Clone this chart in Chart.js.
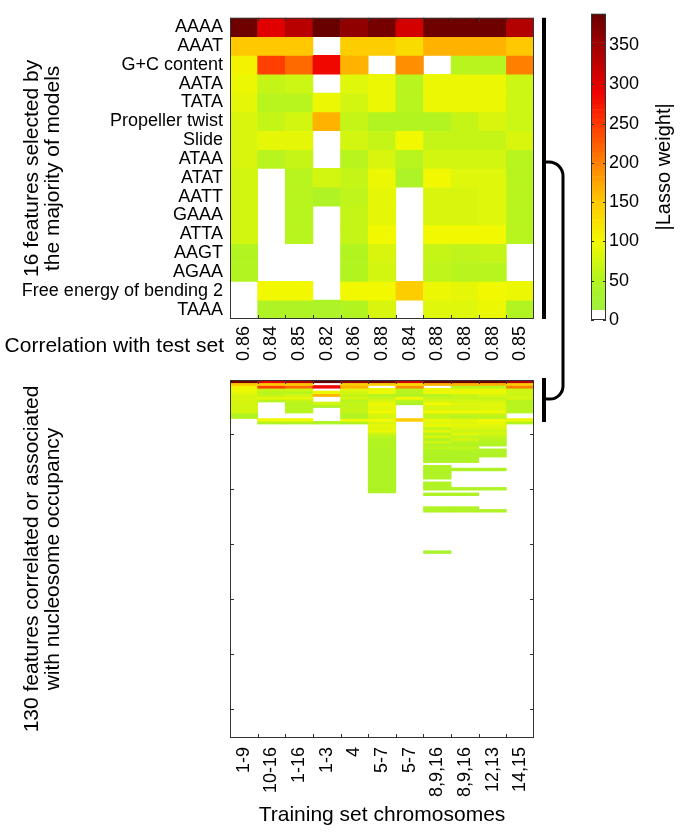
<!DOCTYPE html>
<html>
<head>
<meta charset="utf-8">
<script src="https://cdn.jsdelivr.net/npm/chart.js@4.4.1/dist/chart.umd.min.js"></script>
<style>
  html, body { margin: 0; padding: 0; background: #fff; }
  body { width: 685px; height: 836px; position: relative; overflow: hidden; }
  canvas { position: absolute; left: 0; top: 0; }
</style>
</head>
<body>
<canvas id="top-chart" width="685" height="430"></canvas>
<canvas id="bottom-chart" width="685" height="836"></canvas>
<canvas id="cbar-chart" width="125" height="340" style="left:560px"></canvas>
<script>
const features = ['AAAA', 'AAAT', 'G+C content', 'AATA', 'TATA', 'Propeller twist', 'Slide', 'ATAA',
    'ATAT', 'AATT', 'GAAA', 'ATTA', 'AAGT', 'AGAA', 'Free energy of bending 2', 'TAAA'];
const correlations = ['0.86', '0.84', '0.85', '0.82', '0.86', '0.88', '0.84', '0.88', '0.88', '0.88', '0.85'];
const chromosomes = ['1-9', '10-16', '1-16', '1-3', '4', '5-7', '5-7', '8,9,16', '8,9,16', '12,13', '14,15'];

// |Lasso weight| of the 16 selected features (one line per feature, one value per model)
const topWeights = [
    [385, 300, 330, 390, 360, 380, 310, 385, 385, 385, 335],
    [150, 150, 150,   0, 145, 145, 130, 165, 165, 165, 150],
    [105, 245, 215, 285, 165,   0, 190,   0,  55,  55, 200],
    [ 95,  65,  70,   0,  85,  95,  55,  95,  95,  95,  70],
    [ 90,  55,  55,  95,  75,  95,  55,  95,  95,  95,  70],
    [ 80,  65,  75, 165,  65,  50,  50,  50,  65,  80,  70],
    [ 80,  90,  90,   0,  75,  65, 100,  65,  65,  65,  80],
    [ 80,  55,  65,   0,  55,  80,  55,  75,  75,  75,  55],
    [ 75,   0,  55,  75,  65,  95,  40, 100,  85,  85,  55],
    [ 75,   0,  55,  45,  60,  90,   0,  80,  80,  85,  55],
    [ 75,   0,  55,   0,  65,  90,   0,  80,  80,  85,  55],
    [ 75,   0,  55,   0,  65, 100,   0, 100, 100, 100,  55],
    [ 50,   0,   0,   0,  50,  80,   0,  65,  60,  65,   0],
    [ 50,   0,   0,   0,  50,  75,   0,  60,  55,  55,   0],
    [  0, 100, 100,   0, 100, 100, 145,  95,  90, 100,  95],
    [  0,  45,  45,  40,  50,  80,   0,  85,  85,  95,  50]
];

// rows 17-63 of the 130-feature panel (rows 64-130 are all zero)
const extraWeights = [
    [0, 0, 0, 0, 0, 90, 0, 95, 90, 85, 0],
    [0, 0, 0, 0, 0, 85, 0, 60, 80, 80, 0],
    [0, 0, 0, 0, 0, 95, 0, 90, 70, 70, 0],
    [0, 0, 0, 0, 0, 70, 0, 55, 85, 75, 0],
    [0, 0, 0, 0, 0, 55, 0, 80, 60, 60, 0],
    [0, 0, 0, 0, 0, 50, 0, 50, 75, 55, 0],
    [0, 0, 0, 0, 0, 50, 0, 70, 55, 50, 0],
    [0, 0, 0, 0, 0, 48, 0, 45, 50, 45, 0],
    [0, 0, 0, 0, 0, 48, 0, 60, 60,  0, 0],
    [0, 0, 0, 0, 0, 45, 0, 45, 50, 45, 0],
    [0, 0, 0, 0, 0, 45, 0, 50, 45, 45, 0],
    [0, 0, 0, 0, 0, 45, 0, 45, 45, 45, 0],
    [0, 0, 0, 0, 0, 45, 0, 45, 45,  0, 0],
    [0, 0, 0, 0, 0, 45, 0, 45, 45,  0, 0],
    [0, 0, 0, 0, 0, 45, 0,  0,  0,  0, 0],
    [0, 0, 0, 0, 0, 45, 0, 45,  0,  0, 0],
    [0, 0, 0, 0, 0, 45, 0, 45, 45, 45, 0],
    [0, 0, 0, 0, 0, 45, 0, 45,  0,  0, 0],
    [0, 0, 0, 0, 0, 45, 0, 45,  0,  0, 0],
    [0, 0, 0, 0, 0, 45, 0, 45,  0,  0, 0],
    [0, 0, 0, 0, 0, 45, 0,  0,  0,  0, 0],
    [0, 0, 0, 0, 0, 45, 0, 45,  0,  0, 0],
    [0, 0, 0, 0, 0, 45, 0, 45,  0,  0, 0],
    [0, 0, 0, 0, 0, 45, 0, 45, 45, 45, 0],
    [0, 0, 0, 0, 0, 45, 0,  0,  0,  0, 0],
    [0, 0, 0, 0, 0,  0, 0, 40, 40,  0, 0],
    [0, 0, 0, 0, 0,  0, 0,  0,  0,  0, 0],
    [0, 0, 0, 0, 0,  0, 0,  0,  0,  0, 0],
    [0, 0, 0, 0, 0,  0, 0,  0,  0,  0, 0],
    [0, 0, 0, 0, 0,  0, 0,  0,  0,  0, 0],
    [0, 0, 0, 0, 0,  0, 0, 45, 45,  0, 0],
    [0, 0, 0, 0, 0,  0, 0, 45, 45, 45, 0],
    [0, 0, 0, 0, 0,  0, 0,  0,  0,  0, 0],
    [0, 0, 0, 0, 0,  0, 0,  0,  0,  0, 0],
    [0, 0, 0, 0, 0,  0, 0,  0,  0,  0, 0],
    [0, 0, 0, 0, 0,  0, 0,  0,  0,  0, 0],
    [0, 0, 0, 0, 0,  0, 0,  0,  0,  0, 0],
    [0, 0, 0, 0, 0,  0, 0,  0,  0,  0, 0],
    [0, 0, 0, 0, 0,  0, 0,  0,  0,  0, 0],
    [0, 0, 0, 0, 0,  0, 0,  0,  0,  0, 0],
    [0, 0, 0, 0, 0,  0, 0,  0,  0,  0, 0],
    [0, 0, 0, 0, 0,  0, 0,  0,  0,  0, 0],
    [0, 0, 0, 0, 0,  0, 0,  0,  0,  0, 0],
    [0, 0, 0, 0, 0,  0, 0,  0,  0,  0, 0],
    [0, 0, 0, 0, 0,  0, 0,  0,  0,  0, 0],
    [0, 0, 0, 0, 0,  0, 0,  0,  0,  0, 0],
    [0, 0, 0, 0, 0,  0, 0, 35,  0,  0, 0]
];
const bottomRowCount = 130;
const bottomTickRows = [20, 40, 60, 80, 100, 120];

const colorbarMax = 390;
const colorbarTicks = [0, 50, 100, 150, 200, 250, 300, 350];

// colormap: white below 12, then green -> yellow -> orange -> red -> dark red
const cmapStops = [
    [12, [158, 240, 64]],
    [50, [178, 244, 32]],
    [100, [242, 248, 0]],
    [150, [255, 200, 0]],
    [200, [255, 128, 0]],
    [250, [255, 56, 0]],
    [290, [238, 0, 0]],
    [340, [172, 0, 0]],
    [390, [104, 0, 0]]
];
function weightColor(v) {
    if (!(v >= cmapStops[0][0])) return '#ffffff';
    for (let i = 1; i < cmapStops.length; i++) {
        const [v0, c0] = cmapStops[i - 1];
        const [v1, c1] = cmapStops[i];
        if (v <= v1) {
            const t = (v - v0) / (v1 - v0);
            const c = c0.map((a, k) => Math.round(a + (c1[k] - a) * t));
            return 'rgb(' + c.join(',') + ')';
        }
    }
    const last = cmapStops[cmapStops.length - 1][1];
    return 'rgb(' + last.join(',') + ')';
}

function heatDatasets(rows) {
    return rows.map((row, r) => ({
        label: 'row ' + (r + 1),
        data: row.map(v => v > 0 ? [r - 0.5, r + 0.5] : null),
        backgroundColor: row.map(v => weightColor(v)),
        borderWidth: 0
    }));
}

Chart.defaults.font.family = '"Liberation Sans", Arial, sans-serif';
Chart.defaults.color = '#000';

const inwardTicks = {
    id: 'inwardTicks',
    afterDatasetsDraw(chart, args, opts) {
        const {ctx, chartArea: a, scales: {x, y}} = chart;
        ctx.save();
        ctx.strokeStyle = '#333';
        ctx.lineWidth = 1;
        ctx.beginPath();
        for (let j = 1; j < chromosomes.length; j++) {
            const px = Math.round((x.getPixelForValue(j - 1) + x.getPixelForValue(j)) / 2) + 0.5;
            ctx.moveTo(px, a.bottom); ctx.lineTo(px, a.bottom - 4);
            ctx.moveTo(px, a.top); ctx.lineTo(px, a.top + 4);
        }
        (opts.rowTicks || []).forEach(r => {
            const py = Math.round(y.getPixelForValue(r - 1)) + 0.5;
            ctx.moveTo(a.left, py); ctx.lineTo(a.left + 4, py);
            ctx.moveTo(a.right, py); ctx.lineTo(a.right - 4, py);
        });
        ctx.stroke();
        ctx.strokeRect(a.left + 0.5, a.top + 0.5, a.width - 1, a.height - 1);
        ctx.restore();
    }
};

const topDecor = {
    id: 'topDecor',
    afterDraw(chart) {
        const {ctx, chartArea: a} = chart;
        ctx.save();
        ctx.fillStyle = '#000';
        ctx.font = '21px "Liberation Sans", Arial, sans-serif';
        ctx.textAlign = 'right';
        ctx.textBaseline = 'middle';
        ctx.fillText('Correlation with test set', a.left - 6, a.bottom + 27);

        // brackets linking the two panels
        const bx = a.right + 10;
        ctx.strokeStyle = '#000';
        ctx.lineWidth = 4;
        ctx.beginPath();
        ctx.moveTo(bx, a.top); ctx.lineTo(bx, a.bottom);
        ctx.moveTo(bx, 378); ctx.lineTo(bx, 422);
        ctx.stroke();
        ctx.lineWidth = 3;
        ctx.beginPath();
        ctx.moveTo(bx, 162);
        ctx.arcTo(bx + 19, 162, bx + 19, 190, 14);
        ctx.lineTo(bx + 19, 385);
        ctx.arcTo(bx + 19, 399, bx, 399, 13);
        ctx.lineTo(bx, 399);
        ctx.stroke();
        ctx.restore();
    }
};

const cbarDecor = {
    id: 'cbarDecor',
    afterDraw(chart) {
        const {ctx, chartArea: a, scales: {y}} = chart;
        ctx.save();
        ctx.strokeStyle = '#333';
        ctx.lineWidth = 1;
        ctx.beginPath();
        colorbarTicks.forEach(t => {
            const py = Math.round(y.getPixelForValue(t)) + 0.5;
            ctx.moveTo(a.left, py); ctx.lineTo(a.left + 3, py);
            ctx.moveTo(a.right, py); ctx.lineTo(a.right - 3, py);
        });
        ctx.stroke();
        ctx.strokeRect(a.left + 0.5, a.top + 0.5, a.width - 1, a.height - 1);
        ctx.translate(104, (a.top + a.bottom) / 2);
        ctx.rotate(-Math.PI / 2);
        ctx.fillStyle = '#000';
        ctx.font = '20px "Liberation Sans", Arial, sans-serif';
        ctx.textAlign = 'center';
        ctx.textBaseline = 'middle';
        ctx.fillText('|Lasso weight|', 0, 0);
        ctx.restore();
    }
};

const barDefaults = { bar: { grouped: false, barPercentage: 1, categoryPercentage: 1 } };
const noPlugins = { legend: { display: false }, tooltip: { enabled: false } };

// top panel: 16 selected features
new Chart(document.getElementById('top-chart'), {
    type: 'bar',
    data: { labels: correlations, datasets: heatDatasets(topWeights) },
    options: {
        responsive: false,
        animation: false,
        layout: { padding: { top: 12, right: 151, left: 0, bottom: 0 } },
        datasets: barDefaults,
        plugins: noPlugins,
        scales: {
            x: {
                grid: { display: false, drawTicks: false },
                border: { display: false },
                ticks: { font: { size: 18 }, minRotation: 90, maxRotation: 90, autoSkip: false, padding: 7 },
                afterFit: s => { s.height = 111; }
            },
            y: {
                min: -0.5,
                max: features.length - 0.5,
                reverse: true,
                grid: { display: false, drawTicks: false },
                border: { display: false },
                afterBuildTicks: s => { s.ticks = features.map((f, i) => ({ value: i })); },
                ticks: { autoSkip: false, font: { size: 18 }, padding: 7, callback: v => features[v] },
                title: {
                    display: true,
                    text: ['16 features selected by', 'the majority of models'],
                    font: { size: 21, lineHeight: 1.0 },
                    padding: { top: 22, bottom: 0 }
                },
                afterFit: s => { s.width = 230; }
            }
        }
    },
    plugins: [inwardTicks, topDecor]
});

// bottom panel: all 130 features
const bottomRows = topWeights.concat(extraWeights);
new Chart(document.getElementById('bottom-chart'), {
    type: 'bar',
    data: { labels: chromosomes, datasets: heatDatasets(bottomRows) },
    options: {
        responsive: false,
        animation: false,
        layout: { padding: { top: 380, right: 151, left: 0, bottom: 0 } },
        datasets: barDefaults,
        plugins: Object.assign({ inwardTicks: { rowTicks: bottomTickRows } }, noPlugins),
        scales: {
            x: {
                grid: { display: false, drawTicks: false },
                border: { display: false },
                ticks: { font: { size: 18 }, minRotation: 90, maxRotation: 90, autoSkip: false, padding: 9 },
                title: {
                    display: true,
                    text: 'Training set chromosomes',
                    font: { size: 21 },
                    padding: { top: 0, bottom: 8 }
                },
                afterFit: s => { s.height = 98; }
            },
            y: {
                min: -0.5,
                max: bottomRowCount - 0.5,
                reverse: true,
                grid: { display: false, drawTicks: false },
                border: { display: false },
                ticks: { display: false },
                title: {
                    display: true,
                    text: ['130 features correlated or associated', 'with nucleosome occupancy'],
                    font: { size: 21, lineHeight: 1.0 },
                    padding: { top: 22, bottom: 0 }
                },
                afterFit: s => { s.width = 230; }
            }
        }
    },
    plugins: [inwardTicks]
});

// colour bar
const cbSegments = 64;
const cbStep = colorbarMax / cbSegments;
const cbDatasets = [];
for (let k = 0; k < cbSegments; k++) {
    const lo = k * cbStep;
    cbDatasets.push({
        data: [[lo, lo + cbStep]],
        backgroundColor: weightColor(lo + cbStep / 2),
        borderWidth: 0
    });
}
new Chart(document.getElementById('cbar-chart'), {
    type: 'bar',
    data: { labels: [''], datasets: cbDatasets },
    options: {
        responsive: false,
        animation: false,
        layout: { padding: { top: 12, right: 0, left: 31, bottom: 20 } },
        datasets: barDefaults,
        plugins: noPlugins,
        scales: {
            x: { display: false },
            y: {
                position: 'right',
                min: 0,
                max: colorbarMax,
                grid: { display: false, drawTicks: false },
                border: { display: false },
                afterBuildTicks: s => { s.ticks = colorbarTicks.map(v => ({ value: v })); },
                ticks: { font: { size: 18 }, padding: 3 },
                afterFit: s => { s.width = 79; }
            }
        }
    },
    plugins: [cbarDecor]
});
</script>
</body>
</html>
